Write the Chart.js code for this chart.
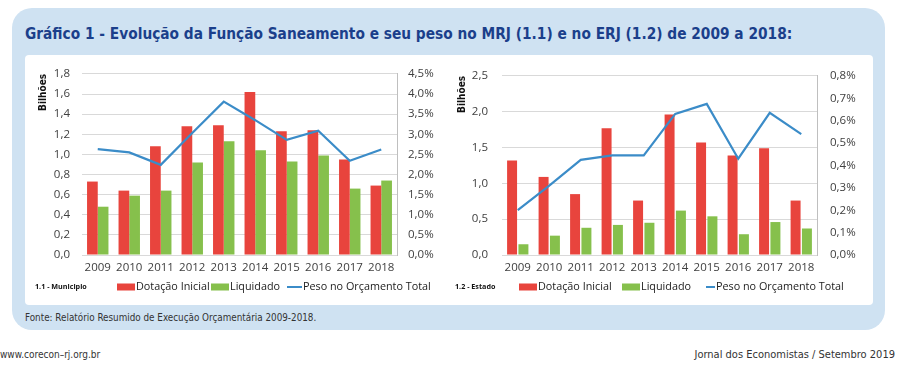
<!DOCTYPE html>
<html><head><meta charset="utf-8">
<script src="https://cdn.jsdelivr.net/npm/chart.js@4/dist/chart.umd.min.js"></script>
<style>
html,body{margin:0;padding:0;background:#fff;width:900px;height:368px;overflow:hidden;}
#box{position:absolute;left:12px;top:8px;width:873px;height:322px;background:#cfe2f2;border-radius:20px;}
#title{position:absolute;left:25px;top:25px;font:bold 15.3px "Liberation Sans Narrow","Arial Narrow","DejaVu Sans Condensed",sans-serif;color:#1b3f8b;white-space:nowrap;}
#panel{position:absolute;left:25px;top:55px;width:848px;height:250px;background:#fff;border-radius:4px;}
#c1wrap{position:absolute;left:25px;top:55px;width:425px;height:250px;}
#c2wrap{position:absolute;left:450px;top:55px;width:423px;height:250px;}
#fonte{position:absolute;left:25px;top:312px;font:9.8px "Liberation Sans Narrow","DejaVu Sans Condensed",sans-serif;color:#333;white-space:nowrap;}
#site{position:absolute;left:0px;top:349px;font:10px "Liberation Sans Narrow","DejaVu Sans Condensed",sans-serif;color:#333;white-space:nowrap;}
#jornal{position:absolute;right:5px;top:348px;font:11px "Liberation Sans Narrow","DejaVu Sans Condensed",sans-serif;color:#333;white-space:nowrap;}
canvas{display:block;}
</style>
</head>
<body>
<div id="box"></div>
<div id="title">Gráfico 1 - Evolução da Função Saneamento e seu peso no MRJ (1.1) e no ERJ (1.2) de 2009 a 2018:</div>
<div id="panel"></div>
<div id="c1wrap"><canvas id="c1" width="425" height="250"></canvas></div>
<div id="c2wrap"><canvas id="c2" width="423" height="250"></canvas></div>
<div id="fonte">Fonte: Relatório Resumido de Execução Orçamentária 2009-2018.</div>
<div id="site">www.corecon–rj.org.br</div>
<div id="jornal">Jornal dos Economistas / Setembro 2019</div>
<script>
// ---- data ----
const years = ['2009','2010','2011','2012','2013','2014','2015','2016','2017','2018'];

// 1.1 - Município (bilhões, % do orçamento)
const munDotacao   = [0.73, 0.64, 1.08, 1.28, 1.29, 1.62, 1.23, 1.24, 0.95, 0.69];
const munLiquidado = [0.48, 0.59, 0.64, 0.92, 1.13, 1.04, 0.93, 0.99, 0.66, 0.74];
const munPeso      = [2.63, 2.55, 2.24, 3.03, 3.81, 3.35, 2.86, 3.09, 2.34, 2.62];

// 1.2 - Estado
const estDotacao   = [1.32, 1.09, 0.85, 1.77, 0.76, 1.96, 1.57, 1.39, 1.49, 0.76];
const estLiquidado = [0.15, 0.27, 0.38, 0.42, 0.45, 0.62, 0.54, 0.29, 0.46, 0.37];
const estPeso      = [0.20, 0.31, 0.425, 0.445, 0.445, 0.63, 0.675, 0.43, 0.635, 0.54];

// tick labels
const munLeftTicks  = ['0,0','0,2','0,4','0,6','0,8','1,0','1,2','1,4','1,6','1,8'];
const munRightTicks = ['0,0%','0,5%','1,0%','1,5%','2,0%','2,5%','3,0%','3,5%','4,0%','4,5%'];
const estLeftTicks  = ['0,0','0,5','1,0','1,5','2,0','2,5'];
const estRightTicks = ['0,0%','0,1%','0,2%','0,3%','0,4%','0,5%','0,6%','0,7%','0,8%'];

const legendNames = ['Dotação Inicial','Liquidado','Peso no Orçamento Total'];

const RED = '#e8443d', GREEN = '#86c04c', BLUE = '#3b8cc8';
const TXT = '#404040';
const FONT = '"Open Sans", "Noto Sans", sans-serif';

const legendPlugin = {
  id: 'customLegend',
  afterDraw(chart, args, o) {
    const ctx = chart.ctx;
    ctx.save();
    ctx.textBaseline = 'middle';
    ctx.textAlign = 'left';
    ctx.fillStyle = '#111';
    ctx.font = o.prefixFont;
    ctx.fillText(o.prefix, o.prefixX, o.y);
    ctx.font = o.font;
    chart.data.datasets.forEach((ds, i) => {
      const x = o.itemX[i];
      let tx;
      if (ds.type === 'line') {
        ctx.strokeStyle = ds.borderColor;
        ctx.lineWidth = 2;
        ctx.beginPath();
        ctx.moveTo(x, o.y); ctx.lineTo(x + o.lineLen, o.y);
        ctx.stroke();
        tx = x + o.lineLen + 1;
      } else {
        ctx.fillStyle = ds.backgroundColor;
        ctx.fillRect(x, o.y - 3.5, o.boxW, 7);
        tx = x + o.boxW + 1;
      }
      ctx.fillStyle = '#222';
      ctx.fillText(ds.label, tx, o.y);
    });
    ctx.restore();
  }
};

function makeChart(id, dot, liq, peso, cfg) {
  return new Chart(document.getElementById(id), {
    data: {
      labels: years,
      datasets: [
        {type:'bar', label: legendNames[0], data: dot, backgroundColor: RED, yAxisID:'y', order: 2,
         categoryPercentage: cfg.catPct, barPercentage: cfg.barPct},
        {type:'bar', label: legendNames[1], data: liq, backgroundColor: GREEN, yAxisID:'y', order: 2,
         categoryPercentage: cfg.catPct, barPercentage: cfg.barPct},
        {type:'line', label: legendNames[2], data: peso, borderColor: BLUE, backgroundColor: BLUE,
         borderWidth: 2.2, pointRadius: 0, tension: 0, yAxisID:'y1', order: 0}
      ]
    },
    options: {
      responsive: false,
      animation: false,
      layout: {padding: {top: 16, left: 0, right: 0, bottom: 0}},
      plugins: {
        legend: {display: false},
        tooltip: {enabled: false},
        customLegend: cfg.legend
      },
      scales: {
        x: {
          grid: {display: false, drawTicks: false},
          border: {display: false},
          ticks: {color: TXT, font: {family: FONT, size: 11.5}, padding: 6, maxRotation: 0, autoSkip: false},
          afterFit: s => { s.height = 50; }
        },
        y: {
          position: 'left',
          min: 0, max: cfg.yMax,
          ticks: {stepSize: cfg.yStep, color: TXT, font: {family: FONT, size: 11.5}, padding: cfg.yPad,
                  callback: (v, i) => cfg.yTicks[i]},
          grid: {color: '#d9d9d9', drawTicks: false, lineWidth: 1},
          border: {display: false},
          title: {display: true, text: 'Bilhões', align: 'end', color: '#111',
                  font: {family: '"Liberation Sans Narrow","DejaVu Sans Condensed",sans-serif', size: 10, weight: 'bold'},
                  padding: {top: cfg.titlePad, bottom: 0}},
          afterFit: s => { s.width = cfg.yWidth; }
        },
        y1: {
          position: 'right',
          min: 0, max: cfg.y1Max,
          ticks: {stepSize: cfg.y1Step, color: TXT, font: {family: FONT, size: 11.5}, padding: cfg.y1Pad,
                  callback: (v, i) => cfg.y1Ticks[i]},
          grid: {display: false, drawTicks: false},
          border: {display: true, color: '#bfbfbf', width: 1},
          afterFit: s => { s.width = cfg.y1Width; }
        }
      }
    },
    plugins: [legendPlugin]
  });
}

makeChart('c1', munDotacao, munLiquidado, munPeso, {
  catPct: 0.68, barPct: 1.0,
  yMax: 1.8, yStep: 0.2, yTicks: munLeftTicks, yPad: 12, yWidth: 57, titlePad: 12,
  y1Max: 4.5, y1Step: 0.5, y1Ticks: munRightTicks, y1Pad: 11, y1Width: 53,
  legend: {prefix: '1.1 - Municipio', prefixX: 10, y: 232,
           prefixFont: 'bold 7.2px "Open Sans", sans-serif', font: '10.8px ' + FONT,
           itemX: [92, 186, 262], boxW: 18, lineLen: 15}
});

makeChart('c2', estDotacao, estLiquidado, estPeso, {
  catPct: 0.72, barPct: 0.88,
  yMax: 2.5, yStep: 0.5, yTicks: estLeftTicks, yPad: 14, yWidth: 52, titlePad: 6,
  y1Max: 0.8, y1Step: 0.1, y1Ticks: estRightTicks, y1Pad: 13, y1Width: 56,
  legend: {prefix: '1.2 - Estado', prefixX: 5, y: 232,
           prefixFont: 'bold 7.2px "Open Sans", sans-serif', font: '10.8px ' + FONT,
           itemX: [69, 172, 256], boxW: 18, lineLen: 9}
});
</script>
</body></html>
